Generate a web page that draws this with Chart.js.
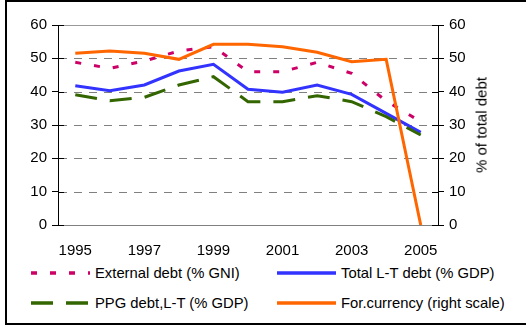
<!DOCTYPE html>
<html>
<head>
<meta charset="utf-8">
<script src="https://cdn.jsdelivr.net/npm/chart.js@4/dist/chart.umd.min.js"></script>
<style>
  html, body { margin: 0; padding: 0; background: #fff; overflow: hidden; }
  body { width: 526px; height: 325px; position: relative; font-family: Arial, "Liberation Sans", sans-serif; color: #000; }
  .frame { position: absolute; left: 5px; top: 0; width: 540px; height: 321px; border: 2px solid #000; }
  #chart { position: absolute; left: 0; top: 0; }
  .ytitle { position: absolute; left: 481px; top: 125px; transform: translate(-50%, -50%) rotate(-90deg); font-size: 15px; white-space: nowrap; }
  .leg { position: absolute; font-size: 14.8px; white-space: nowrap; display: flex; align-items: center; }
  .leg svg { display: block; margin-right: 5px; }
</style>
</head>
<body>
<div class="frame"></div>
<canvas id="chart" width="526" height="260"></canvas>
<div class="ytitle">% of total debt</div>
<div id="legend"></div>
<script>
  // 数据
  const years = ["1995", "1996", "1997", "1998", "1999", "2000", "2001", "2002", "2003", "2004", "2005"];
  const extDebt = [48.8, 47.0, 49.2, 52.2, 53.5, 46.0, 46.0, 48.8, 45.5, 37.2, 31.0];
  const totalLT = [41.8, 40.3, 42.0, 46.2, 48.2, 40.7, 39.8, 42.0, 39.2, 33.5, 27.8];
  const ppgLT = [39.1, 37.3, 38.3, 42.0, 44.5, 37.0, 37.0, 38.8, 37.0, 32.5, 27.0];
  const forCurrency = [51.5, 52.2, 51.5, 49.7, 54.2, 54.2, 53.5, 51.8, 49.0, 49.7, 0];
  const yTicks = [0, 10, 20, 30, 40, 50, 60];

  const series = [
    { label: "External debt (% GNI)", data: extDebt, color: "#cc0066", dash: [6, 13], axis: "y" },
    { label: "Total L-T debt (% GDP)", data: totalLT, color: "#3333ff", dash: [], axis: "y" },
    { label: "PPG debt,L-T (% GDP)", data: ppgLT, color: "#336600", dash: [22, 13], axis: "y" },
    { label: "For.currency (right scale)", data: forCurrency, color: "#ff6600", dash: [], axis: "y2" },
  ];

  Chart.defaults.font.family = 'Arial, "Liberation Sans", sans-serif';
  Chart.defaults.font.size = 15;
  Chart.defaults.color = "#000";

  // 虚线网格 + 轴内侧的短刻度线（参考图里刻度是穿过轴线的）
  const gridAndTicks = {
    id: "gridAndTicks",
    beforeDatasetsDraw(chart) {
      const ctx = chart.ctx;
      const s = chart.scales.y;
      const a = chart.chartArea;
      ctx.save();
      ctx.strokeStyle = "#808080";
      ctx.lineWidth = 1;
      ctx.setLineDash([8, 7]);
      s.ticks.forEach((t) => {
        if (t.value === 0 || t.value === 60) return;
        const py = Math.round(s.getPixelForValue(t.value)) + 0.5;
        ctx.beginPath();
        ctx.moveTo(a.left + 1, py);
        ctx.lineTo(a.right, py);
        ctx.stroke();
      });
      ctx.restore();
    },
    afterDraw(chart) {
      const ctx = chart.ctx;
      ctx.save();
      ctx.strokeStyle = "#000";
      ctx.lineWidth = 1;
      ["y", "y2"].forEach((id) => {
        const s = chart.scales[id];
        const x0 = id === "y" ? s.right : s.left;
        const dir = id === "y" ? 1 : -1;
        s.ticks.forEach((t) => {
          const py = Math.round(s.getPixelForValue(t.value)) + 0.5;
          ctx.beginPath();
          ctx.moveTo(x0, py);
          ctx.lineTo(x0 + dir * 6, py);
          ctx.stroke();
        });
      });
      ctx.restore();
    },
  };

  const yAxisCommon = {
    min: 0,
    max: 60,
    afterBuildTicks: (s) => { s.ticks = yTicks.map((v) => ({ value: v })); },
    ticks: { padding: 5 },
  };

  new Chart(document.getElementById("chart"), {
    type: "line",
    data: {
      labels: years,
      datasets: series.map((s, i) => ({
        label: s.label,
        data: s.data,
        yAxisID: s.axis,
        borderColor: s.color,
        backgroundColor: s.color,
        borderDash: s.dash,
        borderWidth: 3,
        pointRadius: 0,
        tension: 0,
        order: 3 - i,
      })),
    },
    options: {
      responsive: false,
      animation: false,
      layout: { padding: { top: 25, left: 0, right: 0, bottom: 0 } },
      plugins: { legend: { display: false }, tooltip: { enabled: false } },
      scales: {
        x: {
          offset: true,
          grid: { drawOnChartArea: false, drawTicks: false },
          border: { color: "#808080", width: 1 },
          ticks: {
            autoSkip: false,
            maxRotation: 0,
            padding: 17,
            callback: function (v, i) { return i % 2 === 0 ? this.getLabelForValue(v) : ""; },
          },
          afterFit: (s) => { s.height = 35; },
        },
        x2: {
          position: "top",
          offset: true,
          grid: { drawOnChartArea: false, drawTicks: false },
          border: { color: "#999", width: 1 },
          ticks: { display: false },
          afterFit: (s) => { s.height = 0; },
        },
        y: Object.assign({}, yAxisCommon, {
          position: "left",
          grid: { drawOnChartArea: false, tickColor: "#000", tickLength: 6 },
          border: { color: "#000" },
          afterFit: (s) => { s.width = 58; },
        }),
        y2: Object.assign({}, yAxisCommon, {
          position: "right",
          grid: { drawOnChartArea: false, tickColor: "#000", tickLength: 6 },
          border: { color: "#000" },
          afterFit: (s) => { s.width = 88; },
        }),
      },
    },
    plugins: [gridAndTicks],
  });

  // 图例（两列），用 svg 画线样
  const legendPos = [
    { left: 31, top: 273 },
    { left: 277, top: 273 },
    { left: 31, top: 303 },
    { left: 277, top: 303 },
  ];
  const legend = document.getElementById("legend");
  series.forEach((s, i) => {
    const p = legendPos[i];
    const div = document.createElement("div");
    div.className = "leg";
    div.style.left = p.left + "px";
    div.style.top = p.top - 10 + "px";
    div.style.height = "20px";
    div.innerHTML =
      '<svg width="59" height="6"><line x1="0" y1="3" x2="59" y2="3" stroke="' + s.color +
      '" stroke-width="3.3" stroke-dasharray="' + (s.dash.length ? s.dash.join(",") : "none") + '"/></svg>' +
      "<span>" + s.label + "</span>";
    legend.appendChild(div);
  });
</script>
</body>
</html>
